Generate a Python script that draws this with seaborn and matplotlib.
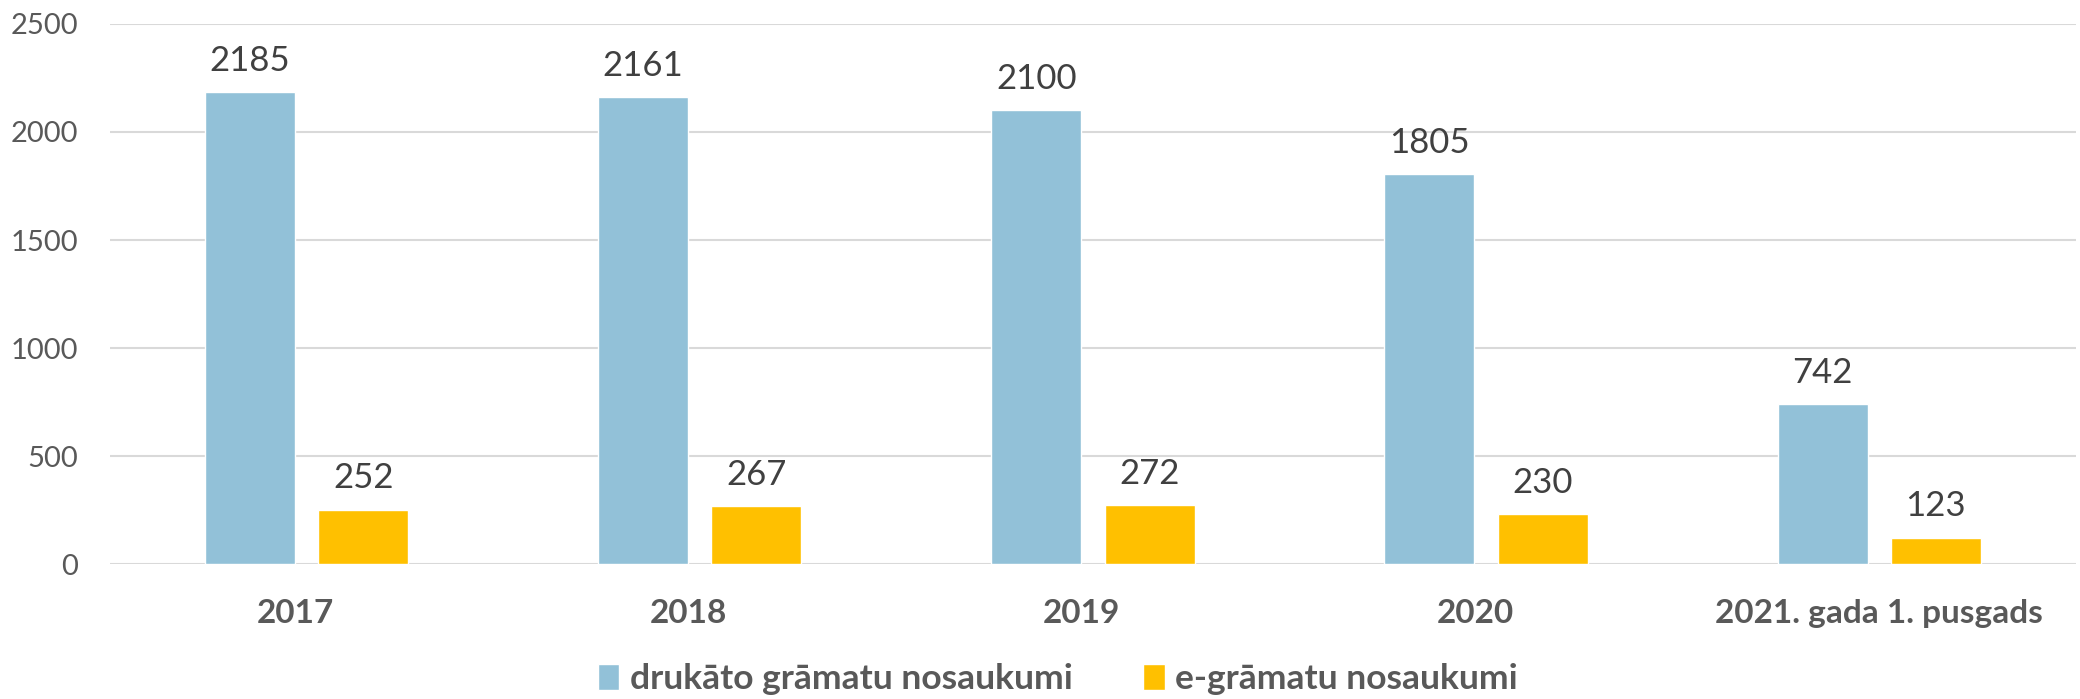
import matplotlib
matplotlib.use("Agg")
import matplotlib.pyplot as plt
import matplotlib.transforms as mtransforms
import seaborn as sns
import pandas as pd

categories = ["2017", "2018", "2019", "2020", "2021. gada 1. pusgads"]
series_names = ["drukāto grāmatu nosaukumi", "e-grāmatu nosaukumi"]
printed = [2185, 2161, 2100, 1805, 742]
ebooks = [252, 267, 272, 230, 123]
yticks = [0, 500, 1000, 1500, 2000, 2500]
colors = ["#92C1D8", "#FFC000"]

df = pd.DataFrame({
    "cat": categories * 2,
    "series": [series_names[0]] * len(categories) + [series_names[1]] * len(categories),
    "value": printed + ebooks,
})

sns.set_theme(style="white")
plt.rcParams["font.family"] = ["Lato", "DejaVu Sans"]

fig = plt.figure(figsize=(20.8, 6.99), dpi=100)
ax = fig.add_axes([0.0529, 0.193, 0.998 - 0.0529, 0.9657 - 0.193])

sns.barplot(data=df, x="cat", y="value", hue="series", order=categories,
            hue_order=series_names, palette=colors, width=0.576, gap=0.205,
            saturation=1, ax=ax, legend=True)

for c in ax.containers:
    ax.bar_label(c, padding=11, fontsize=25, color="#404040")

ax.set_ylim(0, 2500)
ax.set_xlim(-0.5, len(categories) - 0.5)
ax.set_yticks(yticks)
ax.yaxis.grid(True, color="#D9D9D9", linewidth=1.5)
ax.set_axisbelow(True)
for s in ax.spines.values():
    s.set_visible(False)
ax.set_xlabel("")
ax.set_ylabel("")
ax.tick_params(axis="y", length=0, pad=23, labelsize=21, labelcolor="#595959")
ax.tick_params(axis="x", length=0, pad=25, labelsize=24, labelcolor="#595959")
shift = mtransforms.ScaledTranslation(-11 / 100, 0, fig.dpi_scale_trans)
for i, t in enumerate(ax.get_xticklabels()):
    t.set_fontweight("bold")
    if i < 4:
        t.set_transform(t.get_transform() + shift)

handles, labels = ax.get_legend_handles_labels()
ax.get_legend().remove()
leg = fig.legend(handles, labels, loc="center", bbox_to_anchor=(1058 / 2080, 20 / 699),
                 ncol=2, frameon=False, handlelength=0.6, handleheight=0.75,
                 handletextpad=0.3, columnspacing=2.0,
                 prop={"size": 25.5, "weight": "bold"})
for t in leg.get_texts():
    t.set_color("#595959")

fig.savefig("out.png", dpi=100)
